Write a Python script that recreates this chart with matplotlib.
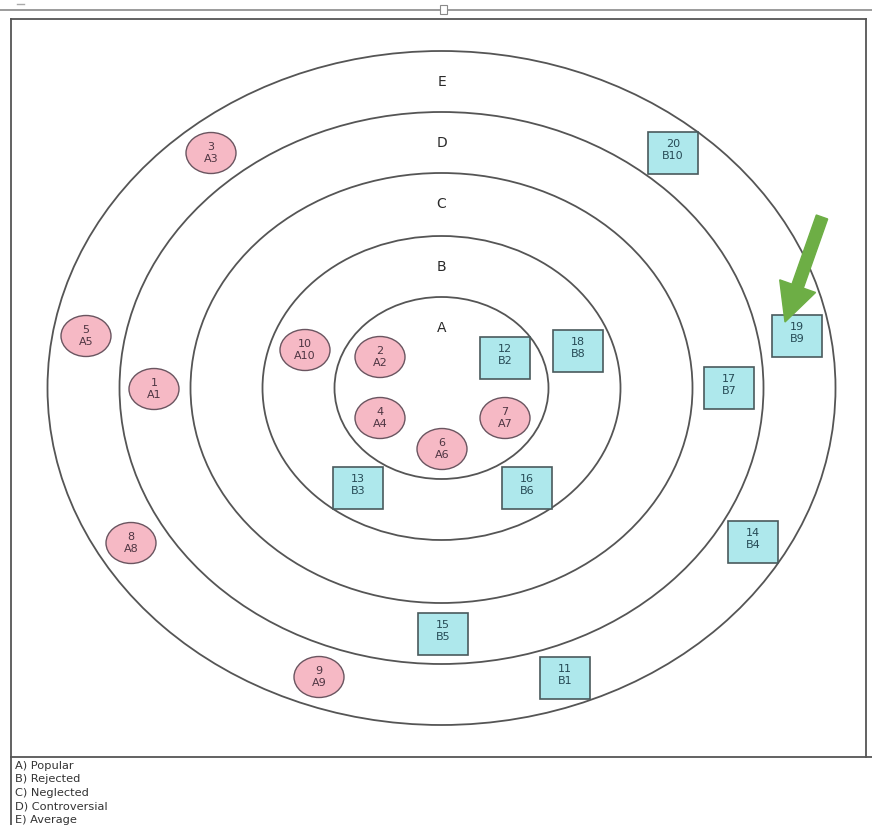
import matplotlib
matplotlib.use("Agg")
import matplotlib.pyplot as plt
from matplotlib.patches import Ellipse, Rectangle, FancyArrow

# ---- data ----
ring_names = ["A", "B", "C", "D", "E"]
ring_rx = [107, 179, 251, 322, 394]
ring_ry = [91, 152, 215, 276, 337]
ring_center = (441.5, 388)

a_ids = ["3", "5", "1", "8", "9", "10", "2", "4", "6", "7"]
a_labels = ["A3", "A5", "A1", "A8", "A9", "A10", "A2", "A4", "A6", "A7"]
a_x = [211, 86, 154, 131, 319, 305, 380, 380, 442, 505]
a_y = [153, 336, 389, 543, 677, 350, 357, 418, 449, 418]

b_ids = ["20", "19", "12", "18", "17", "13", "16", "14", "15", "11"]
b_labels = ["B10", "B9", "B2", "B8", "B7", "B3", "B6", "B4", "B5", "B1"]
b_x = [673, 797, 505, 578, 729, 358, 527, 753, 443, 565]
b_y = [153, 336, 358, 351, 388, 488, 488, 542, 634, 678]

legend_lines = ["A) Popular", "B) Rejected", "C) Neglected", "D) Controversial", "E) Average"]

# ---- figure ----
W, H = 872, 825
fig = plt.figure(figsize=(W / 100, H / 100), dpi=100)
ax = fig.add_axes([0, 0, 1, 1])
ax.set_xlim(0, W)
ax.set_ylim(H, 0)
ax.axis("off")

# window chrome
ax.plot([0, W], [10, 10], color="#8a8a8a", lw=1.2, zorder=1)
ax.add_patch(Rectangle((439.5, 5), 7, 9, facecolor="white", edgecolor="#8a8a8a", lw=0.8, zorder=2))
ax.plot([17, 24], [4, 4], color="#aaaaaa", lw=1, zorder=1)

# frame
ax.plot([11, 11], [19, H], color="#555555", lw=1.3, zorder=1)
ax.plot([11, 866], [19, 19], color="#555555", lw=1.3, zorder=1)
ax.plot([866, 866], [19, 757], color="#555555", lw=1.3, zorder=1)
ax.plot([11, W], [757, 757], color="#555555", lw=1.3, zorder=1)

# rings
cx, cy = ring_center
for name, rx, ry in zip(ring_names, ring_rx, ring_ry):
    ax.add_patch(Ellipse((cx, cy), 2 * rx, 2 * ry, fill=False, edgecolor="#555555", lw=1.3, zorder=2))
    ax.text(cx, cy - ry + 31, name, ha="center", va="center", fontsize=10, color="#2a2a2a", zorder=3)

# A nodes
for i, lab, x, y in zip(a_ids, a_labels, a_x, a_y):
    ax.add_patch(Ellipse((x, y), 50, 41, facecolor="#F6B9C5", edgecolor="#6a5560", lw=1.0, zorder=4))
    ax.text(x, y, f"{i}\n{lab}", ha="center", va="center", fontsize=8, color="#4e3542",
            linespacing=1.3, zorder=5)

# B nodes
for i, lab, x, y in zip(b_ids, b_labels, b_x, b_y):
    ax.add_patch(Rectangle((x - 25, y - 21), 50, 42, facecolor="#AEE8EC", edgecolor="#4a5a5c", lw=1.2, zorder=4))
    ax.text(x, y - 3, f"{i}\n{lab}", ha="center", va="center", fontsize=8, color="#264a55",
            linespacing=1.3, zorder=5)

# green arrow
x0, y0, x1, y1 = 822, 217, 785, 322
ax.add_patch(FancyArrow(x0, y0, x1 - x0, y1 - y0, width=12, head_width=38, head_length=38,
                        length_includes_head=True, color="#6DAE45", zorder=6))

# legend text
for k, t in enumerate(legend_lines):
    ax.text(15, 766 + 13.5 * k, t, ha="left", va="center", fontsize=8.2, color="#333333")

fig.savefig("out.png", dpi=100)
